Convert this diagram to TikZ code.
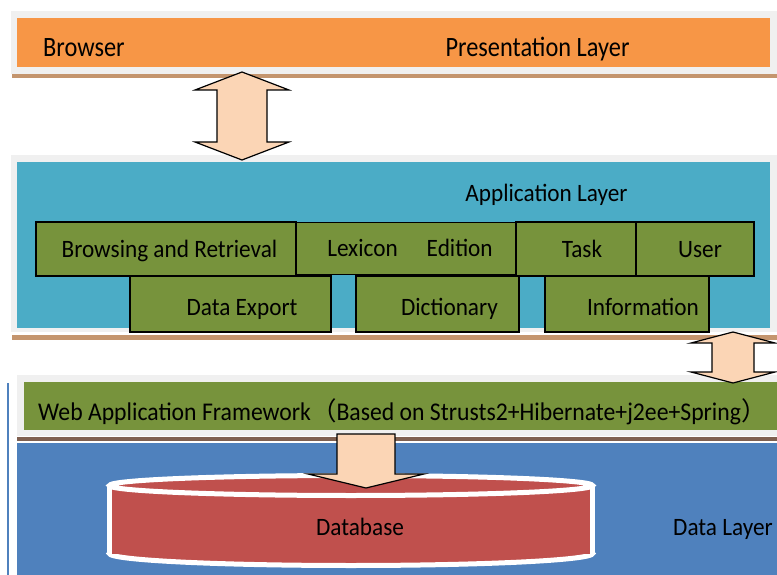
\documentclass[tikz,border=0pt]{standalone}
\usepackage{fontspec}
\setmainfont[FakeStretch=0.93]{Carlito}
\newfontfamily\presfont[FakeStretch=0.87]{Carlito}
\newfontfamily\cjk{Noto Sans CJK SC}
\usetikzlibrary{positioning, calc}
\definecolor{presorange}{HTML}{F79646}
\definecolor{appblue}{HTML}{4BACC6}
\definecolor{modgreen}{HTML}{77933C}
\definecolor{datablue}{HTML}{4F81BD}
\definecolor{dbred}{HTML}{C0504D}
\definecolor{arrowpeach}{HTML}{FBD5B5}
\definecolor{shadegray}{HTML}{F0F0F0}
\definecolor{tanline}{HTML}{C4956E}
\definecolor{darkline}{HTML}{7F6050}
% block double arrow: top tip, bottom tip, head half width, shaft half width, head length
\newcommand{\blockdarrow}[5]{%
    \draw[bigarrow] (#1) -- ($(#1)+(#3,#5)$) -- ($(#1)+(#4,#5)$) -- ($(#2)+(#4,-#5)$)
        -- ($(#2)+(#3,-#5)$) -- (#2) -- ($(#2)+(-#3,-#5)$) -- ($(#2)+(-#4,-#5)$)
        -- ($(#1)+(-#4,#5)$) -- ($(#1)+(-#3,#5)$) -- cycle;}

\begin{document}
\begin{tikzpicture}[
    x=1pt, y=-1pt,
    every node/.style={font=\fontsize{25}{30}\selectfont, inner sep=0pt},
    preslbl/.style={font=\presfont\fontsize{28}{33}\selectfont},
    shade/.style={fill=shadegray, minimum width=766pt},
    layer/.style={minimum width=753pt},
    rule/.style={minimum height=4.5pt},
    module/.style={draw=black, line width=1.2pt, fill=modgreen,
                   text height=16pt, text depth=0pt},
    lowmodule/.style={module, text height=23pt},
    bigarrow/.style={draw=black, line width=1.2pt, fill=arrowpeach, line join=miter},
    cyl/.style={draw=white, line width=5pt, fill=dbred},
]
    \useasboundingbox (0,0) rectangle (777,575);

    % Presentation layer.
    \node[shade, minimum height=63pt] (presbg) at (394,42.5) {};
    \node[layer, fill=presorange, minimum height=49pt] (pres) at (393.5,42.5) {};
    \node[rule, fill=tanline, minimum width=765pt] (presrule) at (394.5,76) {};
    \node[preslbl, anchor=base west] (browser) at (43,56.5) {Browser};
    \node[preslbl, anchor=base] (preslabel) at (537.5,56.5) {Presentation Layer};

    % Application layer.
    \node[shade, minimum height=177pt] (appbg) at (394,243.5) {};
    \node[layer, fill=appblue, minimum height=166pt] (app) at (393.5,245) {};
    \node[rule, fill=tanline, minimum width=765pt] (apprule) at (394.5,337.5) {};
    \node[anchor=base] (applbl) at (546.5,201) {Application Layer};

    % Application modules.
    \node[module, minimum width=260pt, minimum height=54pt] (browse) at (166,249)
        {\hspace*{7pt}Browsing and Retrieval};
    \node[module, minimum width=220pt, minimum height=52pt] (lexicon) at (406,248.5)
        {\hspace*{8pt}Lexicon\hspace{29pt}Edition};
    \node[module, minimum width=120pt, minimum height=54pt] (task) at (576,249)
        {\hspace*{12pt}Task};
    \node[module, minimum width=118pt, minimum height=54pt] (user) at (695,249)
        {\hspace*{10pt}User};
    \node[lowmodule, minimum width=201pt, minimum height=56pt] (export) at (230.5,304)
        {\hspace*{23pt}Data Export};
    \node[lowmodule, minimum width=163pt, minimum height=56pt] (dict) at (437.5,304)
        {\hspace*{24pt}Dictionary};
    \node[lowmodule, minimum width=164pt, minimum height=56pt] (info) at (627,304)
        {\hspace*{32pt}Information};

    % Web application framework.
    \node[shade, minimum width=760pt, minimum height=61pt] (fwkbg) at (397,405.5) {};
    \node[layer, fill=modgreen, minimum height=48pt] (fwk) at (400.5,406) {};
    \node[rule, fill=darkline, minimum width=760pt] (fwkrule) at (397,439) {};
    \node[anchor=base west, font=\fontsize{25.5}{30}\selectfont] (fwklbl) at (38,420)
        {Web Application Framework{\cjk （}Based on Strusts2+Hibernate+j2ee+Spring\makebox[0.4em][l]{\cjk ）}};

    % Data layer.
    \node[fill=datablue, minimum width=760pt, minimum height=132pt] (data) at (397,509) {};
    \draw[datablue, line width=2pt] (8,383) -- (8,575);

    % Database cylinder.
    \draw[cyl] (351,553.5) ellipse [x radius=241.5, y radius=12];
    \fill[dbred] (109.5,485.5) rectangle (592.5,553.5);
    \draw[white, line width=5pt] (109.5,485.5) -- (109.5,553.5) (592.5,485.5) -- (592.5,553.5);
    \draw[cyl] (351,485.5) ellipse [x radius=241.5, y radius=10];
    \node[anchor=base] (db) at (360,535.7) {Database};
    \node[anchor=base west] (datalbl) at (673,535.7) {Data Layer};

    % Connectors between layers.
    \coordinate (a1top) at (242,72);
    \coordinate (a1bot) at (242,160);
    \blockdarrow{a1top}{a1bot}{47}{25}{18}
    \coordinate (a2top) at (733,332);
    \coordinate (a2bot) at (733,383);
    \blockdarrow{a2top}{a2bot}{42}{21}{11}
    \coordinate (dtop) at (366,434);
    \coordinate (dtip) at (366,488);
    \draw[bigarrow] ($(dtop)+(-29,0)$) -- ($(dtop)+(29,0)$) -- ($(dtip)+(29,-14)$)
        -- ($(dtip)+(58,-14)$) -- (dtip) -- ($(dtip)+(-58,-14)$) -- ($(dtip)+(-29,-14)$) -- cycle;
\end{tikzpicture}
\end{document}
